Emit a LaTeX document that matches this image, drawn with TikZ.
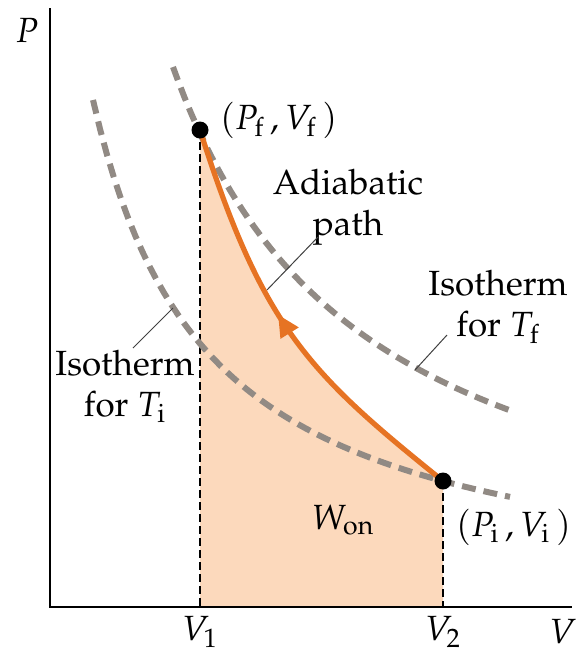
\documentclass[tikz,border=0pt]{standalone}
\usepackage[T1]{fontenc}
\usepackage{mathpazo}
\usetikzlibrary{arrows.meta,decorations.markings}

\definecolor{adiorange}{RGB}{230,115,35}
\definecolor{workfill}{RGB}{252,217,188}
\definecolor{isogray}{RGB}{145,138,132}

\tikzset{
  isotherm/.style={isogray, line width=3pt, dash pattern=on 7pt off 4pt},
  guide/.style={black, line width=0.6pt, dash pattern=on 4pt off 2pt},
  leader/.style={black!75, line width=0.5pt},
  dot/.style={circle, fill=black, inner sep=0pt, minimum size=8.5pt},
  adiabat/.style={adiorange, line width=2.6pt,
    postaction={decorate, decoration={markings,
      mark=at position 0.54 with {\arrow{Triangle[length=11pt,width=10pt]}}}}}
}

\begin{document}
\begin{tikzpicture}[x=0.5pt, y=-0.5pt, font=\fontsize{17.5}{20.5}\selectfont]
\useasboundingbox (0,0) rectangle (575,654);

\coordinate (origin) at (50,607);
\coordinate (ptop) at (50,8);
\coordinate (vend) at (572,607);
\coordinate (Af) at (200,130);
\coordinate (Ai) at (443,481);

% work done on the gas
\fill[workfill] (Af |- origin) -- (Af) .. controls (263,329) and (310,374) .. (Ai) -- (Ai |- origin) -- cycle;
\draw[guide] (Af) -- (Af |- origin);
\draw[guide] (Ai) -- (Ai |- origin);

% isotherms
\draw[isotherm] plot[domain=173:515, samples=60] (\x, {607-1042.2/(\x/100+0.2)});
\draw[isotherm] plot[domain=93:510, samples=60] (\x, {607-586.6/(\x/100+0.227)});

% adiabatic compression
\draw[adiabat] (Ai) .. controls (310,374) and (263,329) .. (Af);

\draw[line width=0.8pt] (ptop) -- (origin) -- (vend);

\node[dot] (pf) at (Af) {};
\node[dot] (pi) at (Ai) {};

\node (plbl) at (27,30) {$P$};
\node (vlbl) at (563,632) {$V$};
\node (v1) at (200,632) {$V_1$};
\node (v2) at (443,632) {$V_2$};
\node[anchor=west] (pfv) at (213,120) {$(P_{\mathrm{f}}\,, V_{\mathrm{f}}\,)$};
\node[anchor=west] (piv) at (449,527) {$(P_{\mathrm{i}}\,, V_{\mathrm{i}}\,)$};
\node (won) at (343,520) {$W_{\mathrm{on}}$};

\node[align=center] (adlbl) at (348,207) {Adiabatic\\path};
\node[align=center] (isof) at (498,307) {Isotherm\\for $T_{\mathrm{f}}$};
\node[align=center] (isoi) at (125,386) {Isotherm\\for $T_{\mathrm{i}}$};

% leaders
\coordinate (adtip) at (267,290);
\coordinate (adend) at (318,237);
\coordinate (ftip) at (415,370);
\coordinate (fend) at (447,335);
\coordinate (itip) at (173,308);
\coordinate (iend) at (133,348);
\draw[leader] (adend) -- (adtip);
\draw[leader] (fend) -- (ftip);
\draw[leader] (iend) -- (itip);
\end{tikzpicture}
\end{document}
